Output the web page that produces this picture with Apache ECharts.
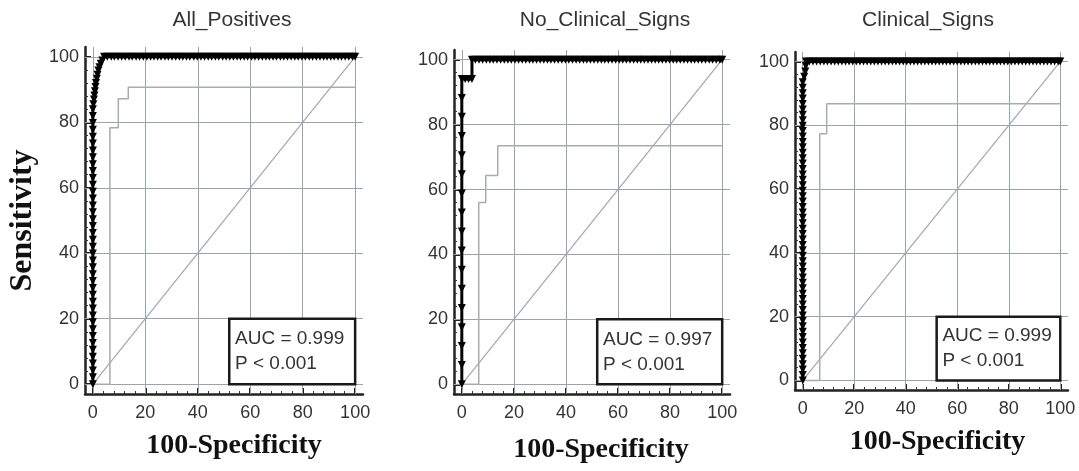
<!DOCTYPE html>
<html>
<head>
<meta charset="utf-8">
<script src="https://cdn.jsdelivr.net/npm/echarts@6/dist/echarts.min.js"></script>
<style>
  html, body { margin: 0; padding: 0; background: #fff; }
  #chart { width: 1079px; height: 471px; }
</style>
</head>
<body>
<div id="chart"></div>
<script>
// ---------- data ----------
const panelTitles = ['All_Positives', 'No_Clinical_Signs', 'Clinical_Signs'];
const aucLabels = ['AUC = 0.999', 'AUC = 0.997', 'AUC = 0.999'];
const pLabels = ['P < 0.001', 'P < 0.001', 'P < 0.001'];
const xAxisTitle = '100-Specificity';
const yAxisTitle = 'Sensitivity';
const majorTicks = [0, 20, 40, 60, 80, 100];
const minorTicks = [4, 8, 12, 16, 24, 28, 32, 36, 44, 48, 52, 56, 64, 68, 72, 76, 84, 88, 92, 96];
const gridValues = [0, 20, 40, 60, 80, 100];
const referenceLine = [[0, 0], [100, 100]];
const aucBoxRange = [[52, 0], [100, 20]];

// ROC curve, All_Positives
const rocAllPositives = [
  [0,0],[0,2.1],[0,4.2],[0,6.3],[0,8.4],[0,10.5],[0,12.6],[0,14.7],[0,16.8],[0,18.9],
  [0,21],[0,23.1],[0,25.2],[0,27.3],[0,29.4],[0,31.5],[0,33.6],[0,35.7],[0,37.8],[0,39.9],
  [0,42],[0,44.1],[0,46.2],[0,48.3],[0,50.4],[0,52.5],[0,54.6],[0,56.7],[0,58.8],[0,60.9],
  [0,63],[0,65.1],[0,67.2],[0,69.3],[0,71.4],[0,73.5],[0,75.6],[0,77.7],[0,79.8],[0,81.9],
  [0,84],[0.2,85.5],[0.4,87],[0.6,88.2],[0.8,89.5],[1,90.8],[1.2,92],[1.5,93.3],[1.8,94.5],
  [2.1,95.8],[2.5,96.8],[3,97.9],[3.6,98.9],[4.3,100],
  [5.5,100],[7,100],[8.2,100],[9.6,100],[11,100],[12.3,100],[13.8,100],[15,100],[16.5,100],
  [17.8,100],[19.2,100],[20.6,100],[22,100],[23.3,100],[24.7,100],[26,100],[27.5,100],
  [28.8,100],[30.2,100],[31.6,100],[33,100],[34.3,100],[35.7,100],[37,100],[38.5,100],
  [39.8,100],[41.2,100],[42.6,100],[44,100],[45.3,100],[46.7,100],[48,100],[49.5,100],
  [50.8,100],[52.2,100],[53.6,100],[55,100],[56.3,100],[57.7,100],[59,100],[60.5,100],
  [61.8,100],[63.2,100],[64.6,100],[66,100],[67.3,100],[68.7,100],[70,100],[71.5,100],
  [72.8,100],[74.2,100],[75.6,100],[77,100],[78.3,100],[79.7,100],[81,100],[82.5,100],
  [83.8,100],[85.2,100],[86.6,100],[88,100],[89.3,100],[90.7,100],[92,100],[93.5,100],
  [94.8,100],[96.2,100],[97.6,100],[99,100],[100,100]
];
// ROC curve, No_Clinical_Signs
const rocNoClinical = [
  [0,0],[0,5.9],[0,11.8],[0,17.6],[0,23.5],[0,29.4],[0,35.3],[0,41.2],[0,47.1],[0,52.9],
  [0,58.8],[0,64.7],[0,70.6],[0,76.5],[0,82.4],[0,88.2],[0,94.1],[1.3,94.1],[2.6,94.1],
  [3.9,94.1],[3.9,100],
  [5.2,100],[6.6,100],[8,100],[9.4,100],[10.8,100],[12.1,100],[13.5,100],[14.9,100],
  [16.3,100],[17.7,100],[19,100],[20.4,100],[21.8,100],[23.2,100],[24.6,100],[26,100],
  [27.3,100],[28.7,100],[30.1,100],[31.5,100],[32.9,100],[34.2,100],[35.6,100],[37,100],
  [38.4,100],[39.8,100],[41.1,100],[42.5,100],[43.9,100],[45.3,100],[46.7,100],[48,100],
  [49.4,100],[50.8,100],[52.2,100],[53.6,100],[54.9,100],[56.3,100],[57.7,100],[59.1,100],
  [60.5,100],[61.8,100],[63.2,100],[64.6,100],[66,100],[67.4,100],[68.7,100],[70.1,100],
  [71.5,100],[72.9,100],[74.3,100],[75.6,100],[77,100],[78.4,100],[79.8,100],[81.2,100],
  [82.5,100],[83.9,100],[85.3,100],[86.7,100],[88.1,100],[89.4,100],[90.8,100],[92.2,100],
  [93.6,100],[95,100],[96.3,100],[97.7,100],[99.1,100],[100,100]
];
// ROC curve, Clinical_Signs
const rocClinical = [
  [0,0],[0,1.7],[0,3.4],[0,5.1],[0,6.8],[0,8.5],[0,10.2],[0,11.9],[0,13.6],[0,15.3],
  [0,17],[0,18.7],[0,20.4],[0,22.1],[0,23.8],[0,25.5],[0,27.2],[0,28.9],[0,30.6],[0,32.3],
  [0,34],[0,35.7],[0,37.4],[0,39.1],[0,40.8],[0,42.5],[0,44.2],[0,45.9],[0,47.6],[0,49.3],
  [0,51],[0,52.7],[0,54.4],[0,56.1],[0,57.8],[0,59.5],[0,61.2],[0,62.9],[0,64.6],[0,66.3],
  [0,68],[0,69.7],[0,71.4],[0,73.1],[0,74.8],[0,76.5],[0,78.2],[0,79.9],[0,81.6],[0,83.3],
  [0,85],[0,86.7],[0,88.4],[0,90.1],[0,91.8],[0,93.5],[0.6,95.2],[1,96.9],[1.2,98.6],[1.3,100],
  [2.6,100],[4,100],[5.4,100],[6.8,100],[8.2,100],[9.6,100],[11,100],[12.4,100],[13.8,100],
  [15.2,100],[16.6,100],[18,100],[19.4,100],[20.8,100],[22.2,100],[23.6,100],[25,100],
  [26.4,100],[27.8,100],[29.2,100],[30.6,100],[32,100],[33.4,100],[34.8,100],[36.2,100],
  [37.6,100],[39,100],[40.4,100],[41.8,100],[43.2,100],[44.6,100],[46,100],[47.4,100],
  [48.8,100],[50.2,100],[51.6,100],[53,100],[54.4,100],[55.8,100],[57.2,100],[58.6,100],
  [60,100],[61.4,100],[62.8,100],[64.2,100],[65.6,100],[67,100],[68.4,100],[69.8,100],
  [71.2,100],[72.6,100],[74,100],[75.4,100],[76.8,100],[78.2,100],[79.6,100],[81,100],
  [82.4,100],[83.8,100],[85.2,100],[86.6,100],[88,100],[89.4,100],[90.8,100],[92.2,100],
  [93.6,100],[95,100],[96.4,100],[97.8,100],[99.2,100],[100,100]
];
// lower confidence bounds
const ciAllPositives = [[0,0],[6.5,0],[6.5,78.3],[9.7,78.3],[9.7,87.2],[13.5,87.2],[13.5,90.7],[100,90.7]];
const ciNoClinical = [[0,0],[6.5,0],[6.5,56],[9.2,56],[9.2,64.3],[13.8,64.3],[13.8,73.5],[100,73.5]];
const ciClinical = [[0,0],[6.6,0],[6.6,77.4],[9.3,77.4],[9.3,86.8],[100,86.8]];

const rocData = [rocAllPositives, rocNoClinical, rocClinical];
const ciData = [ciAllPositives, ciNoClinical, ciClinical];

// ---------- layout ----------
const grids = [
  { left: 85, top: 47, width: 278, height: 347 },
  { left: 454, top: 50, width: 276, height: 344 },
  { left: 795, top: 52, width: 273, height: 338 }
];
const titleCenters = [232, 605, 928];
const xNameGaps = [38, 42, 38];
const xNameShift = [20, 18, 12];

const sans = '"Liberation Sans", Arial, sans-serif';
const serif = '"Liberation Serif", "Times New Roman", serif';
const axisMin = -3, axisMax = 103;

const option = {
  animation: false,
  backgroundColor: '#fff',
  grid: grids,
  xAxis: [],
  yAxis: [],
  series: [],
  graphic: []
};

for (let i = 0; i < 3; i++) {
  // major x axis
  option.xAxis.push({
    type: 'value', gridIndex: i, min: axisMin, max: axisMax, position: 'bottom',
    name: xAxisTitle, nameLocation: 'middle', nameGap: xNameGaps[i],
    nameTextStyle: { fontFamily: serif, fontWeight: 'bold', fontSize: 28, color: '#111', padding: [0, 0, 0, xNameShift[i]] },
    axisLine: { show: true, onZero: false, lineStyle: { color: '#222', width: 2.5 } },
    axisTick: { show: true, inside: true, length: 6, customValues: majorTicks, lineStyle: { color: '#222', width: 2 } },
    axisLabel: { show: true, customValues: majorTicks, margin: 10, fontFamily: sans, fontSize: 18, color: '#333' },
    splitLine: { show: false }
  });
  // minor x axis
  option.xAxis.push({
    type: 'value', gridIndex: i, min: axisMin, max: axisMax, position: 'bottom',
    axisLine: { show: false, onZero: false },
    axisTick: { show: true, inside: true, length: 3, customValues: minorTicks, lineStyle: { color: '#333', width: 1 } },
    axisLabel: { show: false },
    splitLine: { show: false }
  });
  // major y axis
  option.yAxis.push({
    type: 'value', gridIndex: i, min: axisMin, max: axisMax, position: 'left',
    name: i === 0 ? yAxisTitle : '', nameLocation: 'middle', nameGap: 46, nameRotate: 90,
    nameTextStyle: { fontFamily: serif, fontWeight: 'bold', fontSize: 32, color: '#111' },
    axisLine: { show: true, onZero: false, lineStyle: { color: '#222', width: 2.5 } },
    axisTick: { show: true, inside: true, length: 6, customValues: majorTicks, lineStyle: { color: '#222', width: 2 } },
    axisLabel: { show: true, customValues: majorTicks, margin: 6, fontFamily: sans, fontSize: 18, color: '#333' },
    splitLine: { show: false }
  });
  // minor y axis
  option.yAxis.push({
    type: 'value', gridIndex: i, min: axisMin, max: axisMax, position: 'left',
    axisLine: { show: false, onZero: false },
    axisTick: { show: true, inside: true, length: 3, customValues: minorTicks, lineStyle: { color: '#333', width: 1 } },
    axisLabel: { show: false },
    splitLine: { show: false }
  });

  const xi = i * 2, yi = i * 2;
  const gridLines = [];
  gridValues.forEach(v => { gridLines.push({ xAxis: v }); gridLines.push({ yAxis: v }); });

  // grid lines
  option.series.push({
    type: 'line', xAxisIndex: xi, yAxisIndex: yi, data: [], silent: true, z: 1,
    markLine: {
      silent: true, symbol: 'none', label: { show: false }, animation: false, z: 1,
      lineStyle: { color: '#9ca2b6', width: 1, type: 'solid' },
      emphasis: { disabled: true },
      data: gridLines
    }
  });
  // diagonal reference line
  option.series.push({
    type: 'line', xAxisIndex: xi, yAxisIndex: yi, data: referenceLine, silent: true, z: 2,
    symbol: 'none', lineStyle: { color: '#a6a6a6', width: 1.2 }
  });
  // lower confidence bound
  option.series.push({
    type: 'line', xAxisIndex: xi, yAxisIndex: yi, data: ciData[i], silent: true, z: 2,
    symbol: 'none', lineStyle: { color: '#a9abb3', width: 1.5 }
  });
  // AUC box
  option.series.push({
    type: 'line', xAxisIndex: xi, yAxisIndex: yi, data: [], silent: true, z: 3,
    markArea: {
      silent: true, z: 3,
      itemStyle: { color: '#ffffff', opacity: 1, borderColor: '#1a1a1a', borderWidth: 2.5 },
      emphasis: { disabled: true },
      label: {
        show: true, position: 'insideLeft', distance: 7,
        formatter: aucLabels[i] + '\n' + pLabels[i],
        fontFamily: sans, fontSize: 19, lineHeight: 25, color: '#333'
      },
      data: [[{ coord: aucBoxRange[0] }, { coord: aucBoxRange[1] }]]
    }
  });
  // ROC curve
  option.series.push({
    type: 'line', xAxisIndex: xi, yAxisIndex: yi, data: rocData[i], silent: true, z: 4,
    symbol: 'triangle', symbolRotate: 180, symbolSize: 8, showAllSymbol: true,
    itemStyle: { color: '#000' },
    lineStyle: { color: '#000', width: 3 }
  });

  option.graphic.push({
    type: 'text', x: titleCenters[i], y: 10,
    style: { text: panelTitles[i], fontFamily: sans, fontSize: 21, fill: '#333', align: 'center', verticalAlign: 'top' }
  });
}

const chart = echarts.init(document.getElementById('chart'), null, { renderer: 'canvas' });
chart.setOption(option);
</script>
</body>
</html>
